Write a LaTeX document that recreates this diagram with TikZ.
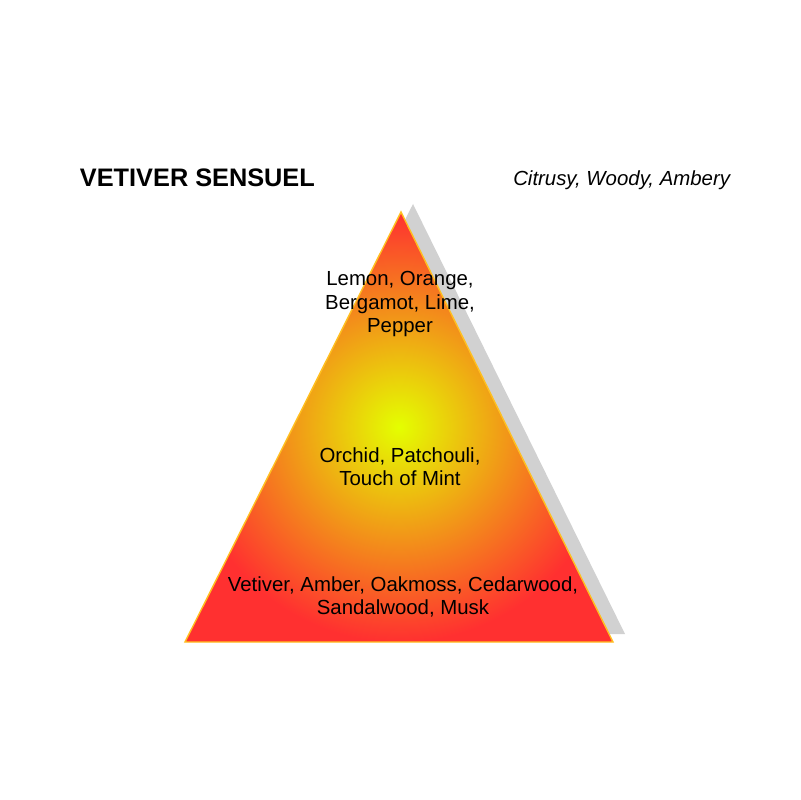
\documentclass[tikz,border=0pt]{standalone}
\usepackage{fontspec}
\setmainfont{Liberation Sans}
\definecolor{pyrtop}{HTML}{E4FF00}
\definecolor{pyrbase}{HTML}{FF3030}
\definecolor{pyredge}{HTML}{FFC020}
\begin{document}
\begin{tikzpicture}[x=0.025cm, y=-0.025cm,
    notes/.style={align=center, font=\fontsize{14.5}{16.5}\selectfont}]
    \useasboundingbox (0,0) rectangle (800,800);

    % Title
    \node [anchor=west, font=\fontsize{18}{20}\selectfont\bfseries] (title) at (75,178) {VETIVER SENSUEL};
    \node [anchor=east, font=\fontsize{14.5}{16}\selectfont\itshape] (family) at (735,180) {Citrusy, Woody, Ambery};

    % Pyramid
    \coordinate (apex) at (401,212);
    \coordinate (left) at (185,642);
    \coordinate (right) at (613,642);
    \fill [black!18] ([shift={(12,-8)}]apex) -- ([shift={(12,-8)}]left) -- ([shift={(12,-8)}]right) -- cycle;
    \shade [inner color=pyrtop, outer color=pyrbase, draw=pyredge, line width=1pt]
        (apex) -- (left) -- (right) -- cycle;

    % Notes
    \node [notes] (top) at (400,304) {Lemon, Orange,\\Bergamot, Lime,\\Pepper};
    \node [notes] (heart) at (400,467) {Orchid, Patchouli,\\Touch of Mint};
    \node [notes] (base) at (403,597) {Vetiver, Amber, Oakmoss, Cedarwood,\\Sandalwood, Musk};
\end{tikzpicture}
\end{document}
